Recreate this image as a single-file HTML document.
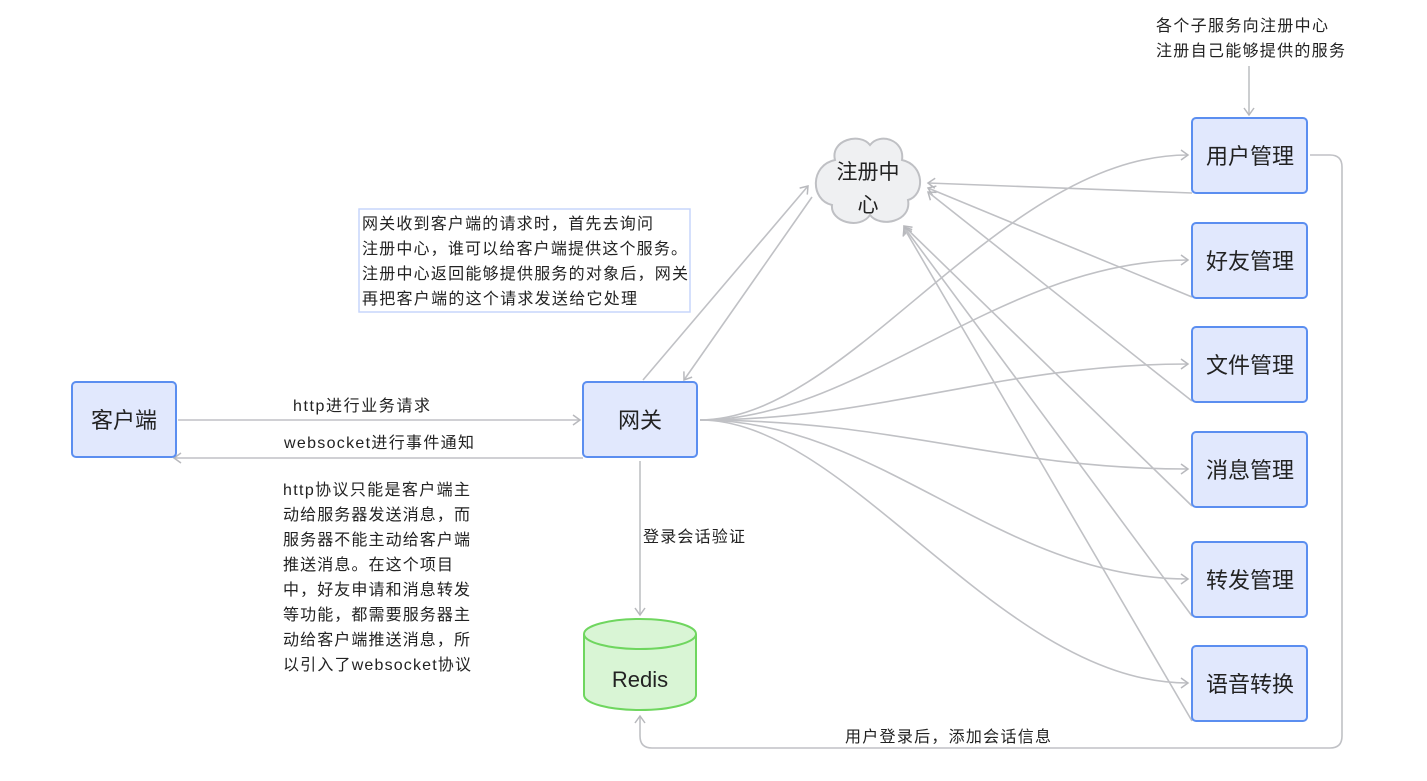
<!DOCTYPE html>
<html><head><meta charset="utf-8"><style>
html,body{margin:0;padding:0;background:#fff;}
svg text{font-family:"Liberation Sans","Noto Sans CJK SC",sans-serif;fill:#222;}
</style></head><body>
<svg width="1427" height="776" viewBox="0 0 1427 776" xmlns="http://www.w3.org/2000/svg">
<defs>
<marker id="a" markerWidth="12" markerHeight="12" refX="9" refY="6" orient="auto" markerUnits="userSpaceOnUse">
<path d="M2,1 L9,6 L2,11" fill="none" stroke="#b8b9bd" stroke-width="1.5"/>
</marker>
</defs>
<g fill="none" stroke="#c0c1c5" stroke-width="1.6">
<line x1="178" y1="420" x2="580" y2="420" marker-end="url(#a)"/>
<line x1="583" y1="458" x2="174" y2="458" marker-end="url(#a)"/>
<line x1="643" y1="380" x2="808" y2="186" marker-end="url(#a)"/>
<line x1="812" y1="197" x2="684" y2="380" marker-end="url(#a)"/>
<line x1="640" y1="461" x2="640" y2="615" marker-end="url(#a)"/>
<line x1="1249" y1="66" x2="1249" y2="115" marker-end="url(#a)"/>
<path d="M700,420 C850,420 1000,155 1188,155" marker-end="url(#a)"/>
<path d="M700,420 C860,420 1000,260 1188,260" marker-end="url(#a)"/>
<path d="M700,420 C880,420 1000,364 1188,364" marker-end="url(#a)"/>
<path d="M700,420 C900,420 1000,469 1188,469" marker-end="url(#a)"/>
<path d="M700,420 C880,420 1000,579 1188,579" marker-end="url(#a)"/>
<path d="M700,420 C850,420 1000,683 1188,683" marker-end="url(#a)"/>
<line x1="1192" y1="193" x2="928" y2="183" marker-end="url(#a)"/>
<line x1="1192" y1="297" x2="928" y2="188" marker-end="url(#a)"/>
<line x1="1192" y1="401" x2="928" y2="192" marker-end="url(#a)"/>
<line x1="1192" y1="506" x2="904" y2="226" marker-end="url(#a)"/>
<line x1="1192" y1="616" x2="904" y2="227" marker-end="url(#a)"/>
<line x1="1192" y1="721" x2="904" y2="228" marker-end="url(#a)"/>
<path d="M1310,155 L1330,155 Q1342,155 1342,167 L1342,736 Q1342,748 1330,748 L652,748 Q640,748 640,736 L640,716" marker-end="url(#a)"/>
</g>
<path d="M835,160 C830,140 860,132 870,145 C880,132 905,140 902,160 C925,165 925,195 908,200 C912,222 880,228 870,215 C860,230 830,222 832,205 C810,200 810,165 835,160 Z" fill="#eff0f2" stroke="#bfc0c4" stroke-width="2"/>
<text x="868" y="179" font-size="21" text-anchor="middle">注册中</text>
<text x="868" y="212" font-size="21" text-anchor="middle">心</text>
<g fill="#e1e8fd" stroke="#5b8ef0" stroke-width="2">
<rect x="72" y="382" width="104" height="75" rx="4"/>
<rect x="583" y="382" width="114" height="75" rx="4"/>
<rect x="1192" y="118" width="115" height="75" rx="4"/>
<rect x="1192" y="223" width="115" height="75" rx="4"/>
<rect x="1192" y="327" width="115" height="75" rx="4"/>
<rect x="1192" y="432" width="115" height="75" rx="4"/>
<rect x="1192" y="542" width="115" height="75" rx="4"/>
<rect x="1192" y="646" width="115" height="75" rx="4"/>
</g>
<g font-size="22" text-anchor="middle">
<text x="124" y="428">客户端</text>
<text x="640" y="428">网关</text>
<text x="1250" y="164">用户管理</text>
<text x="1250" y="269">好友管理</text>
<text x="1250" y="373">文件管理</text>
<text x="1250" y="478">消息管理</text>
<text x="1250" y="588">转发管理</text>
<text x="1250" y="692">语音转换</text>
</g>
<path d="M584,634 L584,695 A56,15 0 0 0 696,695 L696,634" fill="#d9f5d5" stroke="#6fd65f" stroke-width="2"/>
<ellipse cx="640" cy="634" rx="56" ry="15" fill="#d9f5d5" stroke="#6fd65f" stroke-width="2"/>
<text x="640" y="687" font-size="22" text-anchor="middle">Redis</text>
<rect x="359" y="209" width="331" height="103" fill="#fff" stroke="#c7d6fb" stroke-width="1.5"/>
<g font-size="16">
<text x="362" y="229" textLength="291">网关收到客户端的请求时，首先去询问</text>
<text x="362" y="254" textLength="325">注册中心，谁可以给客户端提供这个服务。</text>
<text x="362" y="279" textLength="326">注册中心返回能够提供服务的对象后，网关</text>
<text x="362" y="304" textLength="275">再把客户端的这个请求发送给它处理</text>
<text x="1156" y="31" textLength="172">各个子服务向注册中心</text>
<text x="1156" y="56" textLength="189">注册自己能够提供的服务</text>
<text x="293" y="411" textLength="137">http进行业务请求</text>
<text x="284" y="448" textLength="190">websocket进行事件通知</text>
<text x="643" y="542" textLength="102">登录会话验证</text>
<text x="845" y="742" textLength="206">用户登录后，添加会话信息</text>
<text x="283" y="495" textLength="187">http协议只能是客户端主</text>
<text x="283" y="520" textLength="187">动给服务器发送消息，而</text>
<text x="283" y="545" textLength="187">服务器不能主动给客户端</text>
<text x="283" y="570" textLength="170">推送消息。在这个项目</text>
<text x="283" y="595" textLength="187">中，好友申请和消息转发</text>
<text x="283" y="620" textLength="187">等功能，都需要服务器主</text>
<text x="283" y="645" textLength="187">动给客户端推送消息，所</text>
<text x="283" y="670" textLength="188">以引入了websocket协议</text>
</g>
</svg>
</body></html>
